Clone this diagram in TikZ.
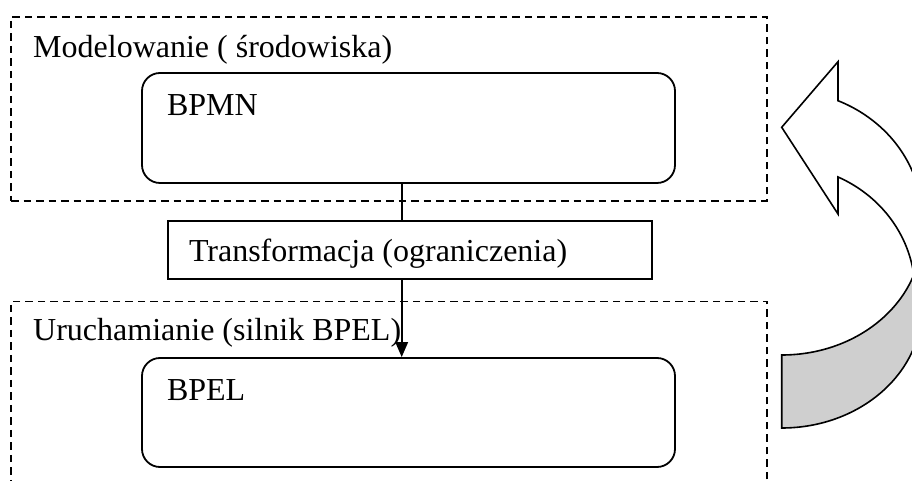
\documentclass[tikz,border=0pt]{standalone}
\usepackage{fontspec}
\setmainfont{Liberation Serif}
\usetikzlibrary{arrows.meta, positioning}

\definecolor{backgray}{RGB}{207,207,207}

\begin{document}
\begin{tikzpicture}[
  x=1pt, y=1pt, >={Triangle[length=15pt,width=12.5pt]},
  line width=1.8pt,
  every node/.style={font=\fontsize{32}{36}\selectfont, inner sep=0pt},
  layer/.style={draw, line width=1.4pt, dash pattern=on 7.5pt off 5pt, minimum width=756pt},
  block/.style={draw, rounded corners=18pt, minimum width=533pt, minimum height=110pt},
  caption/.style={anchor=base west},
  ribbon/.style={draw, line width=1.6pt, line join=miter}]

  \useasboundingbox (0,0) rectangle (912,481);
  \clip (0,0) rectangle (912,481);

  \node[layer, minimum height=184pt]   (model) at (389,372)   {};
  \node[layer, minimum height=209.5pt] (exec)  at (389,74.75) {};
  \node[block]                         (bpmn)  at (408.5,353) {};
  \node[block, minimum height=109pt]   (bpel)  at (408.5,68.5) {};
  \node[draw, minimum width=484.6pt, minimum height=58.3pt] (trans) at (410,231.15) {};

  \node[caption] (modelLbl) at ([shift={(22,-41.5)}]model.north west) {Modelowanie ( środowiska)};
  \node[caption] (execLbl)  at ([shift={(22,-40.2)}]exec.north west)  {Uruchamianie (silnik BPEL)};
  \node[caption] (bpmnLbl)  at ([shift={(25,-43.7)}]bpmn.north west)  {BPMN};
  \node[caption] (bpelLbl)  at ([shift={(25,-43.7)}]bpel.north west)  {BPEL};
  \node[caption] (transLbl) at ([shift={(21.3,-11.85)}]trans.west)    {Transformacja (ograniczenia)};

  \coordinate (axis) at (401.7,0);
  \draw (bpmn.south -| axis) -- (trans.north -| axis);
  \draw[->] (trans.south -| axis) -- (bpel.north -| axis);

  \draw[ribbon, fill=backgray] (781.7,126)
    arc[start angle=-90, end angle=0, x radius=140pt, y radius=120pt] -- ++(0,-73)
    arc[start angle=0, end angle=-90, x radius=140pt, y radius=120pt] -- cycle;
  \draw[ribbon, fill=white] (838,380.3) -- (838,419.3) -- (781.7,353.7) -- (838,267) -- (838,304)
    arc[start angle=65.1, end angle=0, x radius=133pt, y radius=126.4pt] -- (922,263)
    arc[start angle=0, end angle=66.4, x radius=140pt, y radius=128pt] -- cycle;

\end{tikzpicture}
\end{document}
